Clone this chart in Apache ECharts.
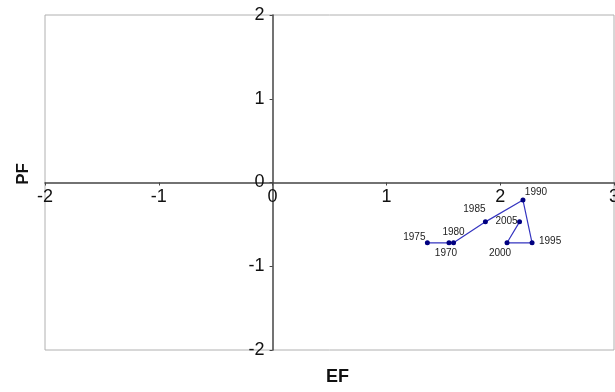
<!DOCTYPE html>
<html>
<head>
<meta charset="utf-8">
<script src="https://cdn.jsdelivr.net/npm/echarts@6/dist/echarts.min.js"></script>
<style>
  html, body { margin: 0; padding: 0; background: #fff; }
  #chart { width: 615px; height: 392px; }
</style>
</head>
<body>
<div id="chart"></div>
<script>
// EF / PF trajectory by year
const years = ['1970', '1975', '1980', '1985', '1990', '1995', '2000', '2005'];
const efValues = [1.55, 1.36, 1.59, 1.87, 2.20, 2.28, 2.06, 2.17];
const pfValues = [-0.72, -0.72, -0.72, -0.47, -0.21, -0.72, -0.72, -0.47];
const xTicks = [-2, -1, 0, 1, 2, 3];
const yTicks = [-2, -1, 0, 1, 2];

// label offsets from each point (pixels), keyed by year
const labelOffsets = {
  '1970': [-3, 10], '1975': [-13, -6], '1980': [0, -11], '1985': [-11, -13],
  '1990': [13, -8], '1995': [18, -2], '2000': [-7, 10], '2005': [-13, -1]
};

const FONT = 'Liberation Sans, Arial, sans-serif';

// plot box in pixels
const GRID = { left: 45, top: 15, right: 1, bottom: 42 };
const W = 615, H = 392;
const plotW = W - GRID.left - GRID.right;
const plotH = H - GRID.top - GRID.bottom;
const xMin = xTicks[0], xMax = xTicks[xTicks.length - 1];
const yMin = yTicks[0], yMax = yTicks[yTicks.length - 1];
// shift the axes so that they cross at the origin, labels included
const xAxisShift = -plotH * (0 - yMin) / (yMax - yMin);
const yAxisShift = -plotW * (0 - xMin) / (xMax - xMin);

const chart = echarts.init(document.getElementById('chart'), null, { renderer: 'canvas' });

const points = years.map((y, i) => ({
  value: [efValues[i], pfValues[i]],
  name: y,
  label: {
    show: true,
    formatter: y,
    position: 'inside',
    align: 'center',
    verticalAlign: 'middle',
    offset: labelOffsets[y],
    fontSize: 10,
    fontFamily: FONT,
    color: '#222'
  }
}));

chart.setOption({
  animation: false,
  grid: {
    left: GRID.left, top: GRID.top, right: GRID.right, bottom: GRID.bottom,
    containLabel: false,
    outerBoundsMode: 'none',
    show: true, borderColor: '#b0b0b0', borderWidth: 1, backgroundColor: '#fff'
  },
  xAxis: {
    type: 'value',
    position: 'bottom',
    offset: xAxisShift,
    min: xMin, max: xMax, interval: 1,
    axisLine: { onZero: false, lineStyle: { color: '#444', width: 1.5 } },
    axisTick: { show: true, length: 3, lineStyle: { color: '#444' } },
    axisLabel: { fontSize: 18, fontFamily: FONT, color: '#111', margin: 6, showMinLabel: true, showMaxLabel: true, hideOverlap: false },
    splitLine: { show: false }
  },
  yAxis: {
    type: 'value',
    position: 'left',
    offset: yAxisShift,
    min: yMin, max: yMax, interval: 1,
    axisLine: { onZero: false, lineStyle: { color: '#444', width: 1.5 } },
    axisTick: { show: true, length: 3, lineStyle: { color: '#444' } },
    axisLabel: { fontSize: 18, fontFamily: FONT, color: '#111', margin: 8, showMinLabel: true, showMaxLabel: true, hideOverlap: false },
    splitLine: { show: false }
  },
  graphic: [
    {
      type: 'text', left: 15, top: 163,
      rotation: Math.PI / 2,
      style: { text: 'PF', font: 'bold 17px ' + FONT, fill: '#111' }
    },
    {
      type: 'text', left: 326, top: 368,
      style: { text: 'EF', font: 'bold 18px ' + FONT, fill: '#111' }
    }
  ],
  series: [{
    type: 'line',
    data: points,
    symbol: 'circle',
    symbolSize: 5,
    itemStyle: { color: '#000080' },
    lineStyle: { color: '#3535c0', width: 1.2 }
  }]
});
</script>
</body>
</html>
